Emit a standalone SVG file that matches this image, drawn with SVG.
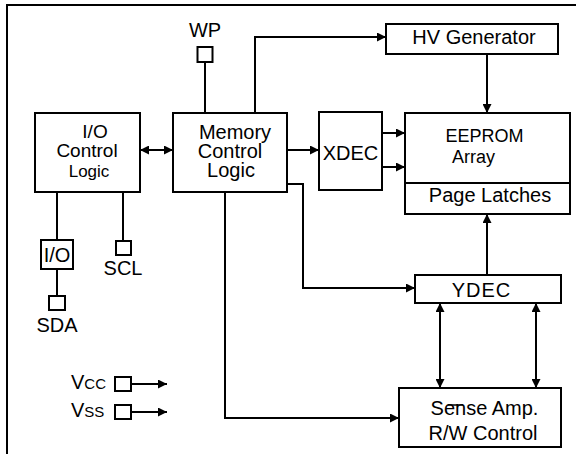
<svg xmlns="http://www.w3.org/2000/svg" width="576" height="454" viewBox="0 0 576 454">
<style>
text{font-family:"Liberation Sans",Arial,sans-serif;font-size:20px;fill:#000;text-anchor:middle}
.box{fill:#fff;stroke:#000;stroke-width:2}
.ln{fill:none;stroke:#000;stroke-width:2}
.ar{marker-end:url(#ah)}
.ar2{marker-start:url(#ah);marker-end:url(#ah)}
</style>
<defs>
<marker id="ah" viewBox="0 0 10 10" refX="10" refY="5" markerUnits="userSpaceOnUse" markerWidth="9" markerHeight="9" orient="auto-start-reverse">
<path d="M0,0 L10,5 L0,10 z" fill="#000"/>
</marker>
</defs>
<rect width="576" height="454" fill="#fff"/>
<path class="ln" d="M7,454 V5 H576"/>

<g id="connectors">
<line class="ln" x1="205" y1="62" x2="205" y2="113"/>
<line class="ln ar2" x1="140" y1="150" x2="173" y2="150"/>
<line class="ln ar" x1="287" y1="150" x2="319" y2="150"/>
<line class="ln ar" x1="382" y1="133" x2="405" y2="133"/>
<line class="ln ar" x1="382" y1="167" x2="405" y2="167"/>
<polyline class="ln ar" points="255,113 255,37 386,37"/>
<line class="ln ar" x1="487" y1="54" x2="487" y2="113"/>
<line class="ln ar" x1="487" y1="275" x2="487" y2="214"/>
<polyline class="ln ar" points="287,184 303,184 303,288 415,288"/>
<line class="ln ar2" x1="440" y1="303" x2="440" y2="388"/>
<line class="ln ar2" x1="536" y1="303" x2="536" y2="388"/>
<polyline class="ln ar" points="225,192 225,418 399,418"/>
<line class="ln" x1="57" y1="192" x2="57" y2="240"/>
<line class="ln" x1="57" y1="269" x2="57" y2="296"/>
<line class="ln" x1="123" y1="192" x2="123" y2="241"/>
<line class="ln ar" x1="131" y1="384" x2="167" y2="384"/>
<line class="ln ar" x1="131" y1="412" x2="167" y2="412"/>
</g>

<g id="wp">
<text x="205" y="37">WP</text>
<rect class="box" x="197.5" y="47" width="15" height="15"/>
</g>

<g id="io-control">
<rect class="box" x="35" y="113" width="105" height="79"/>
<text x="95" y="138" style="font-size:19px">I/O</text>
<text x="87" y="157" style="font-size:19px">Control</text>
<text x="89" y="177" style="font-size:17px">Logic</text>
</g>

<g id="memory-control">
<rect class="box" x="173" y="113" width="114" height="79"/>
<text x="235" y="139">Memory</text>
<text x="230" y="158">Control</text>
<text x="231" y="177">Logic</text>
</g>

<g id="hv-generator">
<rect class="box" x="386" y="24" width="172" height="30"/>
<text x="474" y="44">HV Generator</text>
</g>

<g id="xdec">
<rect class="box" x="319" y="112" width="63" height="78"/>
<text x="350.5" y="160">XDEC</text>
</g>

<g id="eeprom">
<rect class="box" x="405" y="113" width="165" height="101"/>
<line class="ln" x1="405" y1="183" x2="570" y2="183"/>
<text x="484.5" y="142" style="font-size:18px">EEPROM</text>
<text x="473.5" y="163" style="font-size:18px">Array</text>
<text x="490" y="202">Page Latches</text>
</g>

<g id="ydec">
<rect class="box" x="415" y="275" width="146" height="28"/>
<text x="481.5" y="297" style="letter-spacing:1px">YDEC</text>
</g>

<g id="sense-amp">
<rect class="box" x="399" y="388" width="162" height="59"/>
<text x="484.5" y="415">Sense Amp.</text>
<line x1="448" y1="405" x2="463" y2="405" stroke="#000" stroke-width="1.5"/>
<text x="483" y="440">R/W Control</text>
</g>

<g id="io-buffer">
<rect class="box" x="41" y="240" width="32" height="29"/>
<text x="57" y="262">I/O</text>
</g>

<g id="sda">
<rect class="box" x="49" y="296" width="16" height="14"/>
<text x="57" y="332">SDA</text>
</g>

<g id="scl">
<rect class="box" x="116" y="241" width="15" height="14"/>
<text x="123" y="275">SCL</text>
</g>

<g id="vcc">
<text x="71" y="389" style="text-anchor:start">V<tspan style="font-size:15px">CC</tspan></text>
<rect class="box" x="115" y="377" width="16" height="14"/>
</g>

<g id="vss">
<text x="71" y="417" style="text-anchor:start">V<tspan style="font-size:15px">SS</tspan></text>
<rect class="box" x="115" y="405" width="16" height="14"/>
</g>
</svg>
